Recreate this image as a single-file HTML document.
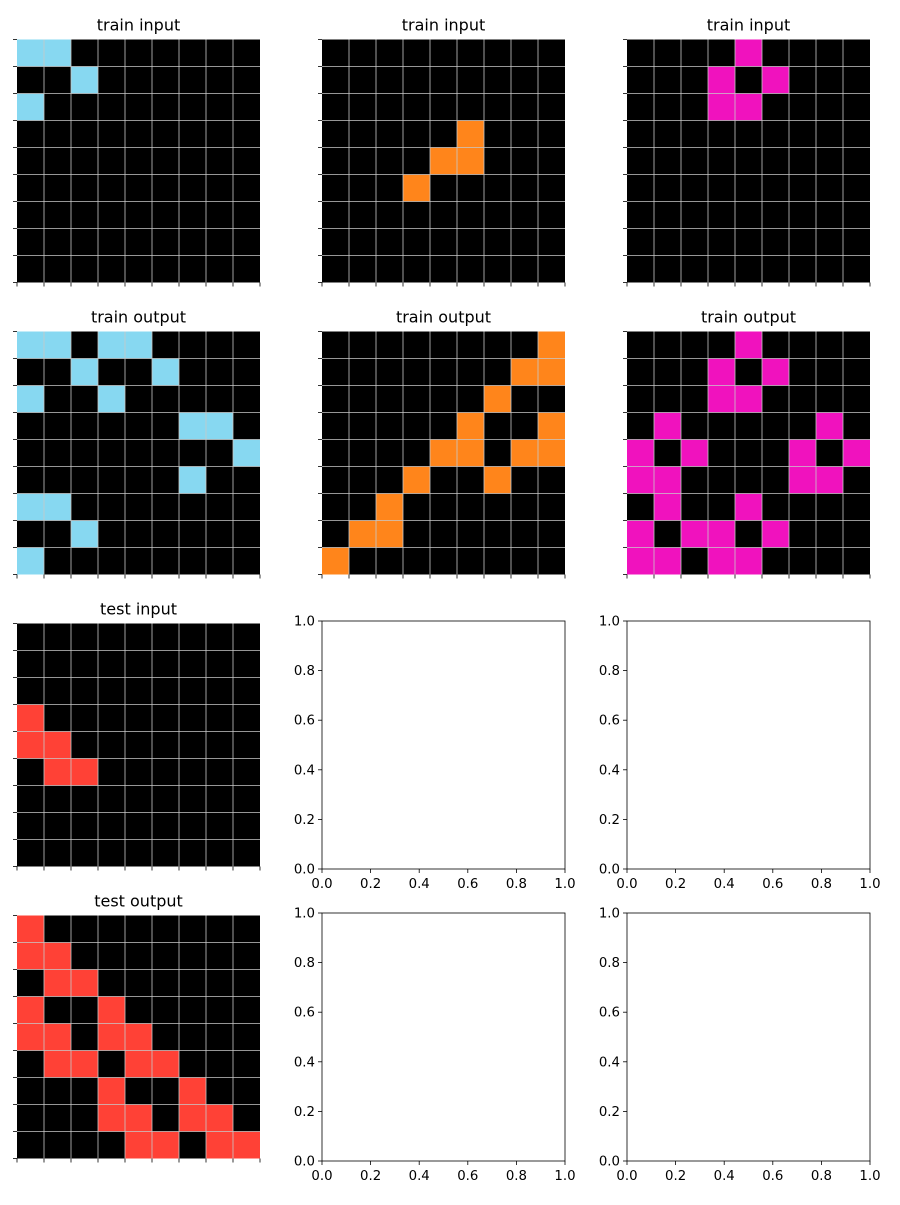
<!DOCTYPE html>
<html><head><meta charset="utf-8"><style>
body{margin:0;background:#fff}
svg text{font-family:"DejaVu Sans","Liberation Sans",sans-serif}
</style></head><body>
<svg id="fig" width="900" height="1200" viewBox="0 0 900 1200" xmlns="http://www.w3.org/2000/svg"></svg>
<script>
const COLORS={1:"#87D8F1",2:"#FF851B",3:"#F012BE",4:"#FF4136"};
const train1In=[[0,1],[2],[0],[],[],[],[],[],[]];
const train1Out=[[0,1,3,4],[2,5],[0,3],[6,7],[8],[6],[0,1],[2],[0]];
const train2In=[[],[],[],[5],[4,5],[3],[],[],[]];
const train2Out=[[8],[7,8],[6],[5,8],[4,5,7,8],[3,6],[2],[1,2],[0]];
const train3In=[[4],[3,5],[3,4],[],[],[],[],[],[]];
const train3Out=[[4],[3,5],[3,4],[1,7],[0,2,6,8],[0,1,6,7],[1,4],[0,2,3,5],[0,1,3,4]];
const testIn=[[],[],[],[0],[0,1],[1,2],[],[],[]];
const testOut=[[0],[0,1],[1,2],[0,3],[0,1,3,4],[1,2,4,5],[3,6],[3,4,6,7],[4,5,7,8]];
const emptyTicks=[0,0.2,0.4,0.6,0.8,1.0];
const tickLabels=["0.0","0.2","0.4","0.6","0.8","1.0"];
const svg=document.getElementById('fig');
const NS="http://www.w3.org/2000/svg";
function mk(tag,attrs,parent){const e=document.createElementNS(NS,tag);for(const k in attrs)e.setAttribute(k,attrs[k]);(parent||svg).appendChild(e);return e;}
const colX=[17,322,627], rowY=[37,329,621,913], W=243, H=248;
function grid(col,row,data,color,title,name){
  const g=mk('g',{});
  
  
  const x0=colX[col], y0=rowY[row]+(H-W)/2, n=9, cs=W/n;
  const bg=mk('rect',{x:x0,y:y0,width:W,height:W,fill:'#000'},g);
  
  data.forEach((cols,r)=>cols.forEach(c=>{
    const cell=mk('rect',{x:x0+c*cs,y:y0+r*cs,width:cs,height:cs,fill:COLORS[color]},g);
    
    
  }));
  for(let i=1;i<n;i++){
    mk('line',{x1:x0+i*cs,y1:y0,x2:x0+i*cs,y2:y0+W,stroke:'#c8c8c8','stroke-width':0.8},g);
    mk('line',{x1:x0,y1:y0+i*cs,x2:x0+W,y2:y0+i*cs,stroke:'#c8c8c8','stroke-width':0.8},g);
  }
  for(let i=0;i<=n;i++){
    mk('line',{x1:x0+i*cs,y1:y0+W,x2:x0+i*cs,y2:y0+W+4,stroke:'#000','stroke-width':0.8},g);
    mk('line',{x1:x0-4,y1:y0+i*cs,x2:x0,y2:y0+i*cs,stroke:'#000','stroke-width':0.8},g);
  }
  const t=mk('text',{x:x0+W/2,y:y0-9,'text-anchor':'middle','font-size':16,fill:'#000'},g);
  t.textContent=title;
  
}
function empty(col,row,name){
  const g=mk('g',{});
  
  
  const x0=colX[col], y0=rowY[row];
  mk('rect',{x:x0,y:y0,width:W,height:H,fill:'#fff',stroke:'#000','stroke-width':0.8},g);
  emptyTicks.forEach((v,i)=>{
    const x=x0+v*W, y=y0+H-v*H;
    mk('line',{x1:x,y1:y0+H,x2:x,y2:y0+H+4,stroke:'#000','stroke-width':0.8},g);
    mk('line',{x1:x0-4,y1:y,x2:x0,y2:y,stroke:'#000','stroke-width':0.8},g);
    const tx=mk('text',{x:x,y:y0+H+19,'text-anchor':'middle','font-size':13.3,fill:'#000'},g);
    tx.textContent=tickLabels[i];
    
    const ty=mk('text',{x:x0-7,y:y+4.5,'text-anchor':'end','font-size':13.3,fill:'#000'},g);
    ty.textContent=tickLabels[i];
    
  });
}
grid(0,0,train1In,1,'train input','train-1-input');
grid(1,0,train2In,2,'train input','train-2-input');
grid(2,0,train3In,3,'train input','train-3-input');
grid(0,1,train1Out,1,'train output','train-1-output');
grid(1,1,train2Out,2,'train output','train-2-output');
grid(2,1,train3Out,3,'train output','train-3-output');
grid(0,2,testIn,4,'test input','test-input');
grid(0,3,testOut,4,'test output','test-output');
empty(1,2,'empty-axes-r3c2');
empty(2,2,'empty-axes-r3c3');
empty(1,3,'empty-axes-r4c2');
empty(2,3,'empty-axes-r4c3');
</script>
</body></html>
